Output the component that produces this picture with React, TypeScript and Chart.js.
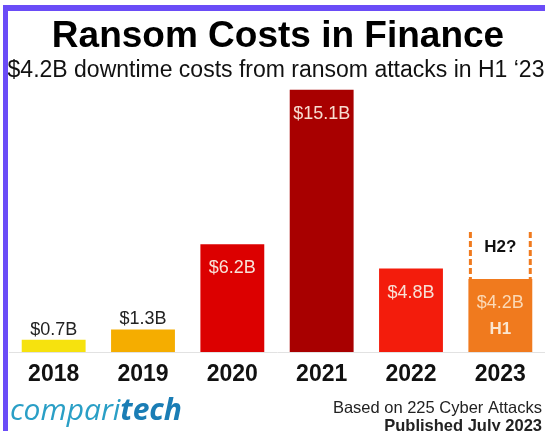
import React, { useEffect, useRef } from "react";
import { Chart, registerables } from "chart.js";

Chart.register(...registerables);

const years = ["2018", "2019", "2020", "2021", "2022", "2023"];
const costsH1 = [0.7, 1.3, 6.2, 15.1, 4.8, 4.2];
const h2Estimate = [null, null, null, null, null, 2.7];
const valueLabels = ["$0.7B", "$1.3B", "$6.2B", "$15.1B", "$4.8B", "$4.2B"];
const labelInside = [false, false, true, true, true, true];
const barColors = ["#f6e20e", "#f5ad00", "#dc0000", "#a80000", "#f31c0c", "#f07a1e"];
const insideLabelColors = ["#222", "#222", "#f8e2d8", "#f8dcd0", "#f8e0d6", "#fbd9b6"];
const h1Label = "H1";
const h2Label = "H2?";
const titleText = "Ransom Costs in Finance";
const subtitleText = "$4.2B downtime costs from ransom attacks in H1 \u201823";
const sourceText = "Based on 225 Cyber Attacks";
const publishedText = "Published July 2023";
const logoA = "compari";
const logoB = "tech";

const SANS = '"Liberation Sans", Arial, Helvetica, sans-serif';

const overlayPlugin = {
  id: "overlay",
  afterDatasetsDraw(chart: any) {
    const ctx = chart.ctx;
    const meta0 = chart.getDatasetMeta(0);
    meta0.data.forEach((bar: any, i: number) => {
      const { x, y } = bar.getProps(["x", "y"], true);
      ctx.save();
      ctx.font = `18px ${SANS}`;
      ctx.textAlign = "center";
      ctx.textBaseline = "middle";
      if (!labelInside[i]) {
        ctx.fillStyle = "#222";
        ctx.fillText(valueLabels[i], x, y - 10);
      } else {
        ctx.fillStyle = insideLabelColors[i];
        ctx.fillText(valueLabels[i], x, y + 24);
      }
      if (i === meta0.data.length - 1) {
        ctx.font = `bold 17px ${SANS}`;
        ctx.fillStyle = "#fbe6d0";
        ctx.fillText(h1Label, x, y + 50);
      }
      ctx.restore();
    });

    const meta1 = chart.getDatasetMeta(1);
    meta1.data.forEach((el: any, i: number) => {
      if (h2Estimate[i] == null) return;
      const { x, y, base, width } = el.getProps(["x", "y", "base", "width"], true);
      const left = x - width / 2 + 2;
      const right = x + width / 2 - 2;
      ctx.save();
      ctx.strokeStyle = barColors[i];
      ctx.lineWidth = 3;
      ctx.setLineDash([6, 3]);
      ctx.beginPath();
      ctx.moveTo(left, y);
      ctx.lineTo(left, base);
      ctx.moveTo(right, y);
      ctx.lineTo(right, base);
      ctx.stroke();
      ctx.setLineDash([]);
      ctx.font = `bold 17px ${SANS}`;
      ctx.fillStyle = "#111";
      ctx.textAlign = "center";
      ctx.textBaseline = "middle";
      ctx.fillText(h2Label, x, y + 15);
      ctx.restore();
    });
  },
  afterDraw(chart: any) {
    const ctx = chart.ctx;
    ctx.save();
    ctx.fillStyle = "#000";
    ctx.textAlign = "center";
    ctx.textBaseline = "alphabetic";
    ctx.font = `bold 37px ${SANS}`;
    ctx.fillText(titleText, 278, 47);
    ctx.font = `23px ${SANS}`;
    ctx.fillStyle = "#111";
    ctx.fillText(subtitleText, 276, 77);

    ctx.textAlign = "right";
    ctx.textBaseline = "middle";
    ctx.font = `16.5px ${SANS}`;
    ctx.fillStyle = "#222";
    ctx.fillText(sourceText, 542, 408);
    ctx.font = `bold 16.5px ${SANS}`;
    ctx.fillText(publishedText, 542, 426);

    ctx.textAlign = "left";
    ctx.textBaseline = "alphabetic";
    ctx.font = `italic 30px "Open Sans", sans-serif`;
    ctx.fillStyle = "#2a9fc6";
    ctx.fillText(logoA, 10, 420);
    const w = ctx.measureText(logoA).width;
    ctx.font = `italic bold 30px "Open Sans", sans-serif`;
    ctx.fillStyle = "#1a7db5";
    ctx.fillText(logoB, 10 + w, 420);
    ctx.restore();
  },
};

export default function App() {
  const ref = useRef<HTMLCanvasElement | null>(null);
  useEffect(() => {
    document.body.style.margin = "0";
    const chart = new Chart(ref.current as HTMLCanvasElement, {
      type: "bar",
      data: {
        labels: years,
        datasets: [
          {
            label: "H1",
            data: costsH1,
            backgroundColor: barColors,
            borderWidth: 0,
            barPercentage: 0.715,
            categoryPercentage: 1,
            stack: "s",
          },
          {
            label: "H2 estimate",
            data: h2Estimate as any,
            backgroundColor: "rgba(0,0,0,0)",
            borderWidth: 0,
            barPercentage: 0.715,
            categoryPercentage: 1,
            stack: "s",
          },
        ],
      },
      options: {
        responsive: false,
        animation: false,
        layout: { padding: { left: 9, right: 0, top: 74, bottom: 39 } },
        plugins: { legend: { display: false }, tooltip: { enabled: false }, title: { display: false } },
        scales: {
          x: {
            stacked: true,
            grid: { display: false, drawTicks: false },
            border: { display: true, color: "#e2e2e2", width: 1 },
            ticks: { color: "#111", padding: 9, font: { family: SANS, size: 23, weight: "bold" } },
            afterFit: (scale: any) => {
              scale.height = 40;
            },
          },
          y: { stacked: true, display: false, min: 0, max: 16 },
        },
      },
      plugins: [overlayPlugin],
    });
    return () => chart.destroy();
  }, []);
  return (
    <div style={{ position: "absolute", left: 0, top: 0, width: 545, height: 431, background: "#fff" }}>
      <canvas ref={ref} width={545} height={431} style={{ display: "block" }} />
      <div style={{ position: "absolute", left: 3, top: 5, width: 5, height: 426, background: "#6a4cf7" }} />
      <div style={{ position: "absolute", left: 3, top: 5, width: 542, height: 6, background: "#6a4cf7" }} />
    </div>
  );
}
